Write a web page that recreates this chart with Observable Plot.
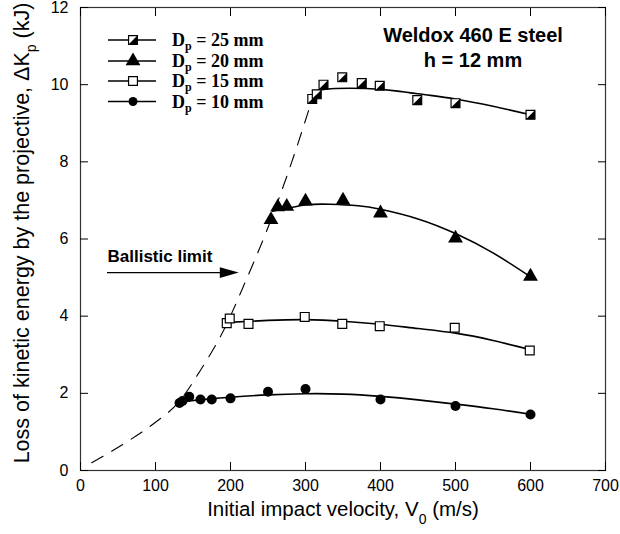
<!DOCTYPE html>
<html>
<head>
<meta charset="utf-8">
<script src="https://cdn.jsdelivr.net/npm/d3@7"></script>
<script src="https://cdn.jsdelivr.net/npm/@observablehq/plot@0.6"></script>
<style>
  html, body { margin: 0; padding: 0; background: white; }
  #chart { position: relative; width: 620px; height: 534px; }
</style>
</head>
<body>
<div id="chart"></div>
<script>
// ---- tick values ----
const xTicks = [0, 100, 200, 300, 400, 500, 600, 700];
const yTicks = [0, 2, 4, 6, 8, 10, 12];

// ---- measured points ----
const d25V = [309, 315, 324, 349, 375, 399, 449, 500, 600];
const d25K = [9.63, 9.75, 10.0, 10.19, 10.04, 9.97, 9.6, 9.52, 9.22];

const d20V = [254, 263, 275, 300, 350, 400, 500, 600];
const d20K = [6.5, 6.83, 6.84, 6.98, 7.0, 6.67, 6.02, 5.03];

const d15V = [195, 199, 224, 299, 349, 399, 499, 599];
const d15K = [3.82, 3.94, 3.80, 3.98, 3.80, 3.74, 3.70, 3.11];

const d10V = [132, 136, 145, 160, 175, 200, 250, 300, 400, 500, 600];
const d10K = [1.75, 1.80, 1.91, 1.84, 1.84, 1.87, 2.04, 2.11, 1.84, 1.67, 1.45];

// ---- fitted curves ----
const fit25V = [311, 340, 380, 420, 460, 500, 550, 600];
const fit25K = [9.84, 9.9, 9.9, 9.84, 9.74, 9.63, 9.44, 9.22];

const fit20V = [256, 300, 333, 370, 400, 450, 500, 550, 600];
const fit20K = [6.72, 6.88, 6.9, 6.86, 6.77, 6.52, 6.14, 5.64, 5.02];

const fit15V = [197, 250, 300, 350, 400, 450, 500, 550, 600];
const fit15K = [3.84, 3.89, 3.91, 3.87, 3.79, 3.68, 3.56, 3.37, 3.13];

const fit10V = [133, 170, 200, 250, 300, 350, 400, 450, 500, 550, 600];
const fit10K = [1.78, 1.85, 1.9, 1.96, 1.99, 1.98, 1.92, 1.83, 1.72, 1.6, 1.46];

// ---- ballistic limit (dashed) ----
const blV = [15, 60, 100, 130, 160, 190, 220, 250, 280, 311];
const blK = [0.2, 0.72, 1.25, 1.75, 2.6, 3.6, 4.9, 6.3, 7.9, 9.75];

// ---- annotation ----
const arrowK = 5.13;
const arrowV0 = 36;
const arrowV1 = 211;
const arrowLabel = "Ballistic limit";
const arrowLabelK = 5.55;

const legendLabels = ["25", "20", "15", "10"];
const noteLines = ["Weldox 460 E steel", "h = 12 mm"];

const zip = (xs, ys) => xs.map((x, i) => ({x, y: ys[i]}));

const halfSquare = {draw(ctx, size) {
  const s = Math.sqrt(size) / 2;
  ctx.moveTo(s, -s); ctx.lineTo(s, s); ctx.lineTo(-s, s); ctx.closePath();
}};
const arrowHead = {draw(ctx, size) {
  const s = Math.sqrt(size);
  ctx.moveTo(0, 0); ctx.lineTo(-s, -s * 0.28); ctx.lineTo(-s, s * 0.28); ctx.closePath();
}};

const lineOpts = {x: "x", y: "y", stroke: "black", strokeWidth: 1.6, curve: "natural"};
const sans = "'Liberation Sans', Arial, sans-serif";

const svg = Plot.plot({
  width: 620,
  height: 534,
  marginLeft: 80,
  marginRight: 15,
  marginTop: 7,
  marginBottom: 64,
  x: {domain: [0, 700]},
  y: {domain: [0, 12]},
  style: {fontFamily: sans, fontSize: "16px", color: "black", background: "white"},
  marks: [
    Plot.frame({stroke: "#333", strokeWidth: 1.2}),
    Plot.axisX(xTicks, {anchor: "bottom", tickSize: -8, tickPadding: 17, label: null, fontSize: 16}),
    Plot.axisX(xTicks, {anchor: "top", tickSize: -8, tickFormat: () => "", label: null}),
    Plot.axisY(yTicks, {anchor: "left", tickSize: -8, tickPadding: 20, label: null, fontSize: 16}),
    Plot.axisY(yTicks, {anchor: "right", tickSize: -8, tickFormat: () => "", label: null}),
    Plot.line(zip(blV, blK), {x: "x", y: "y", stroke: "black", strokeWidth: 1.1, strokeDasharray: "13,10", curve: "monotone-x"}),
    Plot.line(zip(fit25V, fit25K), lineOpts),
    Plot.line(zip(fit20V, fit20K), lineOpts),
    Plot.line(zip(fit15V, fit15K), lineOpts),
    Plot.line(zip(fit10V, fit10K), lineOpts),
    Plot.dot(zip(d25V, d25K), {x: "x", y: "y", symbol: "square", r: 5, fill: "white", stroke: "black", strokeWidth: 1.2}),
    Plot.dot(zip(d25V, d25K), {x: "x", y: "y", symbol: halfSquare, r: 5, fill: "black"}),
    Plot.dot(zip(d20V, d20K), {x: "x", y: "y", symbol: "triangle", r: 5.5, fill: "black"}),
    Plot.dot(zip(d15V, d15K), {x: "x", y: "y", symbol: "square", r: 5, fill: "white", stroke: "black", strokeWidth: 1.2}),
    Plot.dot(zip(d10V, d10K), {x: "x", y: "y", r: 5, fill: "black"}),
    Plot.ruleY([arrowK], {x1: arrowV0, x2: arrowV1 - 15, stroke: "black", strokeWidth: 1.3}),
    Plot.dot([{x: arrowV1, y: arrowK}], {x: "x", y: "y", symbol: arrowHead, r: 10.7, fill: "black"}),
    Plot.text([arrowLabel], {x: arrowV0, y: arrowLabelK, text: d => d, textAnchor: "start", fontWeight: "bold", fontSize: 17})
  ]
});

const s = d3.select(svg);

// legend
const legendSymbols = [
  [{type: d3.symbolSquare, fill: "white", stroke: "black"}, {type: halfSquare, fill: "black"}],
  [{type: d3.symbolTriangle, fill: "black"}],
  [{type: d3.symbolSquare, fill: "white", stroke: "black"}],
  [{type: d3.symbolCircle, fill: "black"}]
];
const legendSize = [25 * Math.PI, 30.25 * Math.PI, 25 * Math.PI, 20 * Math.PI];
const rowY = [40, 61, 81, 101.5];
const lg = s.append("g");
legendLabels.forEach((lab, i) => {
  const g = lg.append("g").attr("transform", `translate(0,${rowY[i]})`);
  g.append("line").attr("x1", 108).attr("x2", 156).attr("stroke", "black").attr("stroke-width", 1.6);
  legendSymbols[i].forEach(sym => {
    g.append("path").attr("transform", "translate(133,0)")
      .attr("d", d3.symbol(sym.type, legendSize[i])())
      .attr("fill", sym.fill).attr("stroke", sym.stroke || "none").attr("stroke-width", 1.2);
  });
  const t = g.append("text").attr("x", 172).attr("y", 6).attr("text-anchor", "start")
    .attr("font-family", "'Liberation Serif', 'Times New Roman', serif")
    .attr("font-weight", "bold").attr("font-size", 18).attr("fill", "black");
  t.append("tspan").text("D");
  t.append("tspan").attr("font-size", 12).attr("dy", 4).text("p");
  t.append("tspan").attr("dy", -4).text(` = ${lab} mm`);
});

// note
noteLines.forEach((line, i) => {
  s.append("text").attr("x", 473).attr("y", 42 + i * 25)
    .attr("text-anchor", "middle").attr("font-weight", "bold").attr("font-size", 20)
    .attr("font-family", sans).attr("fill", "black").text(line);
});

// x title
const xt = s.append("text").attr("x", 343).attr("y", 516).attr("text-anchor", "middle")
  .attr("font-size", 20.5).attr("font-family", sans).attr("fill", "black");
xt.append("tspan").text("Initial impact velocity, V");
xt.append("tspan").attr("font-size", 14).attr("dy", 8).text("0");
xt.append("tspan").attr("dy", -8).text(" (m/s)");

// y title
const yt = s.append("text").attr("transform", "translate(29,233) rotate(-90)").attr("text-anchor", "middle")
  .attr("font-size", 21.5).attr("font-family", sans).attr("fill", "black");
yt.append("tspan").text("Loss of kinetic energy by the projective, \u0394K");
yt.append("tspan").attr("font-size", 14).attr("dy", 7).text("p");
yt.append("tspan").attr("dy", -7).text(" (kJ)");

document.getElementById("chart").appendChild(svg);
</script>
</body>
</html>
